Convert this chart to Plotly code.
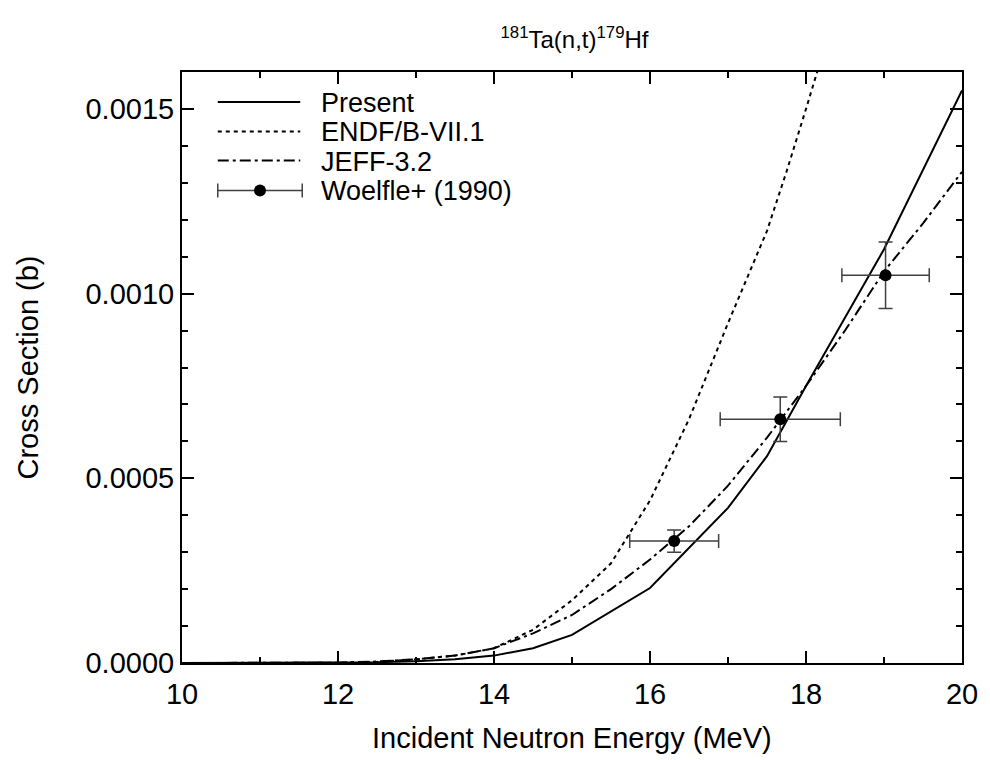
import plotly.graph_objects as go

# Incident neutron energies (MeV) and evaluated cross sections (b)
present_e = [10, 11, 12, 12.5, 13, 13.5, 14, 14.5, 15, 16, 17, 17.5, 18, 19, 20]
present_xs = [0, 0, 0.0000005, 0.000002, 0.000005, 0.00001, 0.00002, 0.00004,
              0.000076, 0.000203, 0.00042, 0.00056, 0.00075, 0.00112, 0.00155]

endf_e = [10, 11, 12, 12.5, 13, 13.5, 14, 14.5, 15, 15.5, 16, 16.5, 17, 17.5, 17.75, 18, 18.5]
endf_xs = [0, 0, 0.0000005, 0.000003, 0.00001, 0.00002, 0.00004, 0.00009, 0.00017,
           0.00027, 0.00044, 0.00066, 0.00092, 0.00117, 0.00133, 0.0015, 0.00185]

jeff_e = [10, 11, 12, 12.5, 13, 13.5, 14, 14.5, 15, 15.5, 16, 16.5, 17, 17.5, 18, 18.5, 19, 19.5, 20]
jeff_xs = [0, 0, 0.000001, 0.000004, 0.00001, 0.00002, 0.00004, 0.00008, 0.00013, 0.0002,
           0.00028, 0.00037, 0.00048, 0.00061, 0.00075, 0.0009, 0.00106, 0.00119, 0.00133]

# Woelfle+ (1990) measurement
exp_e = [16.31, 17.67, 19.02]
exp_de = [0.57, 0.77, 0.56]
exp_xs = [0.00033, 0.00066, 0.00105]
exp_dxs = [0.00003, 0.00006, 0.00009]

legend_labels = ["Present", "ENDF/B-VII.1", "JEFF-3.2", "Woelfle+ (1990)"]

FONT = "Liberation Sans, Arial, Helvetica, sans-serif"
DOT = "4px,4px"
DASHDOT = "11px,4px,3px,4px"

fig = go.Figure()
fig.add_trace(go.Scatter(x=present_e, y=present_xs, mode="lines",
                         line=dict(color="black", width=2), showlegend=False))
fig.add_trace(go.Scatter(x=endf_e, y=endf_xs, mode="lines",
                         line=dict(color="black", width=2, dash=DOT), showlegend=False))
fig.add_trace(go.Scatter(x=jeff_e, y=jeff_xs, mode="lines",
                         line=dict(color="black", width=2, dash=DASHDOT), showlegend=False))
fig.add_trace(go.Scatter(
    x=exp_e, y=exp_xs, mode="markers",
    marker=dict(color="black", size=12),
    error_x=dict(type="data", array=exp_de, color="#404040", thickness=1.5, width=7),
    error_y=dict(type="data", array=exp_dxs, color="#404040", thickness=1.5, width=7),
    showlegend=False))

# Hand-drawn legend in paper coordinates
PX_W, PX_H = 785, 591
def px(xp):
    return (xp - 182) / PX_W
def py(yp):
    return (663 - yp) / PX_H

rows = [102, 131.5, 160.5, 190.5]
x0, x1 = px(218), px(301)
shapes = []
styles = [None, DOT, DASHDOT]
for yrow, dash in zip(rows[:3], styles):
    shapes.append(dict(type="line", xref="paper", yref="paper", x0=x0, x1=x1,
                       y0=py(yrow), y1=py(yrow),
                       line=dict(color="black", width=2, dash=dash or "solid")))
yr = rows[3]
shapes.append(dict(type="line", xref="paper", yref="paper", x0=x0, x1=px(303),
                   y0=py(yr), y1=py(yr), line=dict(color="#404040", width=1.5)))
for xc in (218, 303):
    shapes.append(dict(type="line", xref="paper", yref="paper", x0=px(xc), x1=px(xc),
                       y0=py(yr - 7), y1=py(yr + 7), line=dict(color="#404040", width=1.5)))
shapes.append(dict(type="circle", xref="paper", yref="paper",
                   x0=px(260.5 - 6), x1=px(260.5 + 6), y0=py(yr + 6), y1=py(yr - 6),
                   fillcolor="black", line=dict(color="black", width=0)))

annotations = []
for yrow, label in zip(rows, legend_labels):
    annotations.append(dict(xref="paper", yref="paper", x=px(320), y=py(yrow + 1),
                            text=label, showarrow=False, xanchor="left", yanchor="middle",
                            font=dict(family=FONT, size=27, color="black")))

# Axis titles
annotations.append(dict(xref="paper", yref="paper", x=0.5, y=py(738),
                        text="Incident Neutron Energy (MeV)", showarrow=False,
                        xanchor="center", yanchor="middle",
                        font=dict(family=FONT, size=29, color="black")))
annotations.append(dict(xref="paper", yref="paper", x=px(27), y=0.5,
                        text="Cross Section (b)", showarrow=False, textangle=-90,
                        xanchor="center", yanchor="middle",
                        font=dict(family=FONT, size=29, color="black")))

axis_common = dict(showline=True, linewidth=2, linecolor="black", mirror="allticks",
                   ticks="inside", ticklen=12, tickwidth=2, tickcolor="black",
                   showgrid=False, zeroline=False,
                   tickfont=dict(family=FONT, size=29, color="black"))

fig.update_layout(
    width=990, height=760,
    margin=dict(l=182, r=23, t=72, b=97),
    paper_bgcolor="white", plot_bgcolor="white",
    title=dict(text="<sup>181</sup>Ta(n,t)<sup>179</sup>Hf", x=0.5803, xanchor="center",
               y=0.948, yanchor="middle",
               font=dict(family=FONT, size=24, color="black")),
    xaxis=dict(range=[10, 20], dtick=2, tick0=10, ticklabelstandoff=4,
               minor=dict(dtick=1, ticks="inside", ticklen=6, tickwidth=2, tickcolor="black"),
               **axis_common),
    yaxis=dict(range=[0, 0.0016], dtick=0.0005, tick0=0, tickformat=".4f",
               minor=dict(dtick=0.0001, ticks="inside", ticklen=6, tickwidth=2, tickcolor="black"),
               **axis_common),
    shapes=shapes,
    annotations=annotations,
    showlegend=False,
)

fig.write_html("out.html")
